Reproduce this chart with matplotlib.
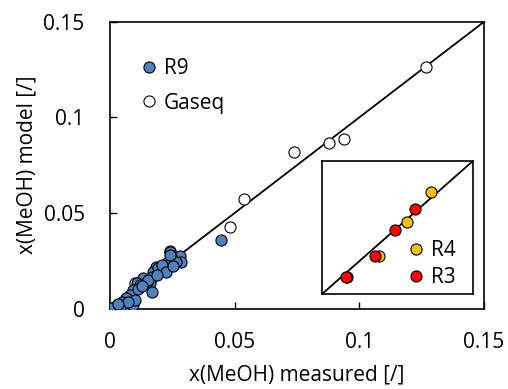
import numpy as np
import matplotlib
matplotlib.use('Agg')
import matplotlib.pyplot as plt
from matplotlib.lines import Line2D

plt.rcParams['font.family'] = ['Open Sans', 'DejaVu Sans']

# R9 (model vs measured)
r9_x = [0.0241, 0.0281, 0.0285, 0.0244, 0.0235, 0.0215, 0.0185, 0.0175, 0.0168, 0.0161,
        0.0168, 0.0134, 0.0108, 0.0121, 0.0094, 0.0081, 0.0065, 0.0048, 0.0028, 0.0001,
        0.0094, 0.0101, 0.0054, 0.0014, 0.0195, 0.0208, 0.0267, 0.0241, 0.0148, 0.0041,
        0.0074, 0.0447, 0.0005, 0.0035, 0.0115, 0.0155, 0.0225, 0.0188, 0.0252, 0.0128]
r9_y = [0.0298, 0.0275, 0.0246, 0.0269, 0.0246, 0.0211, 0.0220, 0.0193, 0.0167, 0.0133,
        0.0089, 0.0159, 0.0133, 0.0124, 0.0098, 0.0072, 0.0054, 0.0037, 0.0019, 0.0002,
        0.0019, 0.0045, 0.0002, 0.0000, 0.0211, 0.0228, 0.0246, 0.0281, 0.0141, 0.0010,
        0.0037, 0.0359, 0.0003, 0.0025, 0.0105, 0.0150, 0.0190, 0.0178, 0.0225, 0.0118]

# Gaseq
gs_x = [0.1267, 0.0937, 0.0879, 0.0737, 0.0536, 0.0481, 0.0241, 0.0101]
gs_y = [0.1261, 0.0885, 0.0864, 0.0819, 0.0571, 0.0429, 0.0303, 0.0136]

# inset: R4 and R3 (relative scale)
r4_x = [0.720, 0.561, 0.380, 0.163]
r4_y = [0.765, 0.539, 0.288, 0.130]
r3_x = [0.616, 0.483, 0.351, 0.159]
r3_y = [0.637, 0.481, 0.286, 0.130]

blue = '#4F81BD'
yellow = '#FFC000'
red = '#FF0000'
ms = 64
fs = 15

fig = plt.figure(figsize=(5.08, 3.89), dpi=100)
ax = fig.add_axes([0.216, 0.2064, 0.737, 0.7378])

ax.plot([0, 0.15], [0, 0.15], color='black', lw=1.3, zorder=1)
ax.scatter(gs_x, gs_y, s=ms, facecolor='white', edgecolor='black', lw=0.8, zorder=2)
ax.scatter(r9_x, r9_y, s=ms, facecolor=blue, edgecolor='black', lw=0.8, zorder=3)

ax.set_xlim(0, 0.15)
ax.set_ylim(0, 0.15)
ax.set_xticks([0, 0.05, 0.1, 0.15])
ax.set_yticks([0, 0.05, 0.1, 0.15])
ax.set_xticklabels(['0', '0.05', '0.1', '0.15'])
ax.set_yticklabels(['0', '0.05', '0.1', '0.15'])
ax.tick_params(direction='in', length=5, width=1, labelsize=fs)
ax.tick_params(axis='x', pad=17)
ax.tick_params(axis='y', pad=18)
for s in ax.spines.values():
    s.set_linewidth(1.2)
ax.set_xlabel('x(MeOH) measured [/]', fontsize=fs, labelpad=8)
ax.set_ylabel('x(MeOH) model [/]', fontsize=fs, labelpad=4)

h1 = Line2D([], [], ls='none', marker='o', ms=8, mfc=blue, mec='black', mew=0.8)
h2 = Line2D([], [], ls='none', marker='o', ms=8, mfc='white', mec='black', mew=0.8)
ax.legend([h1, h2], ['R9', 'Gaseq'], loc='upper left', bbox_to_anchor=(0.066, 0.902),
          frameon=False, fontsize=fs, handlelength=0.6, handletextpad=0.4,
          labelspacing=0.65, borderaxespad=0)

# inset
axi = fig.add_axes([0.634, 0.2442, 0.297, 0.342])
axi.plot([0, 1], [0, 1], color='black', lw=1.3, zorder=1)
axi.scatter(r4_x, r4_y, s=ms, facecolor=yellow, edgecolor='black', lw=0.8, zorder=2)
axi.scatter(r3_x, r3_y, s=ms, facecolor=red, edgecolor='black', lw=0.8, zorder=3)
axi.set_xlim(0, 1)
axi.set_ylim(0, 1)
axi.set_xticks([])
axi.set_yticks([])
for s in axi.spines.values():
    s.set_linewidth(1.2)
h3 = Line2D([], [], ls='none', marker='o', ms=8, mfc=yellow, mec='black', mew=0.8)
h4 = Line2D([], [], ls='none', marker='o', ms=8, mfc=red, mec='black', mew=0.8)
axi.legend([h3, h4], ['R4', 'R3'], loc='lower left', bbox_to_anchor=(0.527, -0.02),
           frameon=False, fontsize=fs, handlelength=0.6, handletextpad=0.4,
           labelspacing=0.3, borderaxespad=0)

fig.savefig('out.png', dpi=100)
